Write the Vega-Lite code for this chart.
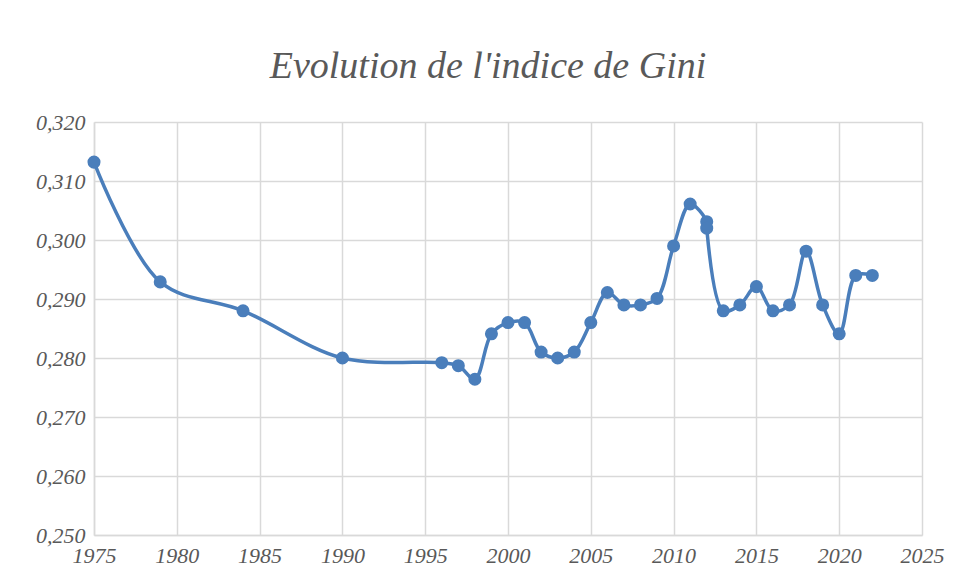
{
  "$schema": "https://vega.github.io/schema/vega-lite/v6.json",
  "width": 828,
  "height": 413,
  "autosize": {"type": "none"},
  "padding": {"left": 94, "top": 122, "right": 33, "bottom": 41},
  "background": "white",
  "title": {
    "text": "Evolution de l'indice de Gini",
    "font": "Liberation Serif",
    "fontStyle": "italic",
    "fontWeight": "normal",
    "fontSize": 38,
    "color": "#595959",
    "anchor": "middle",
    "dx": -20,
    "offset": 25
  },
  "config": {
    "locale": {"number": {"decimal": ",", "thousands": " ", "grouping": [3], "currency": ["", " €"]}},
    "view": {"stroke": null},
    "axis": {
      "labelFont": "Liberation Serif",
      "labelFontStyle": "italic",
      "labelFontSize": 22,
      "labelColor": "#595959",
      "gridColor": "#d9d9d9",
      "gridWidth": 1.5,
      "domainColor": "#d9d9d9",
      "domainWidth": 1.5,
      "ticks": false,
      "title": null
    }
  },
  "data": {
    "values": [
      {"annee": 1975, "gini": 0.3132},
      {"annee": 1979, "gini": 0.2929},
      {"annee": 1984, "gini": 0.2880},
      {"annee": 1990, "gini": 0.2800},
      {"annee": 1996, "gini": 0.2792},
      {"annee": 1997, "gini": 0.2787},
      {"annee": 1998, "gini": 0.2764},
      {"annee": 1999, "gini": 0.2841},
      {"annee": 2000, "gini": 0.2860},
      {"annee": 2001, "gini": 0.2860},
      {"annee": 2002, "gini": 0.2810},
      {"annee": 2003, "gini": 0.2800},
      {"annee": 2004, "gini": 0.2810},
      {"annee": 2005, "gini": 0.2860},
      {"annee": 2006, "gini": 0.2911},
      {"annee": 2007, "gini": 0.2890},
      {"annee": 2008, "gini": 0.2890},
      {"annee": 2009, "gini": 0.2901},
      {"annee": 2010, "gini": 0.2990},
      {"annee": 2011, "gini": 0.3061},
      {"annee": 2012, "gini": 0.3031},
      {"annee": 2012, "gini": 0.3020},
      {"annee": 2013, "gini": 0.2880},
      {"annee": 2014, "gini": 0.2890},
      {"annee": 2015, "gini": 0.2921},
      {"annee": 2016, "gini": 0.2880},
      {"annee": 2017, "gini": 0.2890},
      {"annee": 2018, "gini": 0.2981},
      {"annee": 2019, "gini": 0.2890},
      {"annee": 2020, "gini": 0.2841},
      {"annee": 2021, "gini": 0.2940},
      {"annee": 2022, "gini": 0.2940}
    ]
  },
  "encoding": {
    "x": {
      "field": "annee",
      "type": "quantitative",
      "scale": {"domain": [1975, 2025], "nice": false, "zero": false},
      "axis": {"values": [1975, 1980, 1985, 1990, 1995, 2000, 2005, 2010, 2015, 2020, 2025], "format": "d", "labelPadding": 10, "labelFlush": false, "labelOverlap": false}
    },
    "y": {
      "field": "gini",
      "type": "quantitative",
      "scale": {"domain": [0.25, 0.32], "nice": false, "zero": false},
      "axis": {"values": [0.25, 0.26, 0.27, 0.28, 0.29, 0.3, 0.31, 0.32], "format": ".3f", "labelPadding": 9}
    }
  },
  "layer": [
    {
      "mark": {"type": "line", "interpolate": "catmull-rom", "color": "#4a7ebb", "strokeWidth": 3.5}
    },
    {
      "mark": {"type": "point", "filled": true, "opacity": 1, "color": "#4a7ebb", "size": 170}
    }
  ]
}
